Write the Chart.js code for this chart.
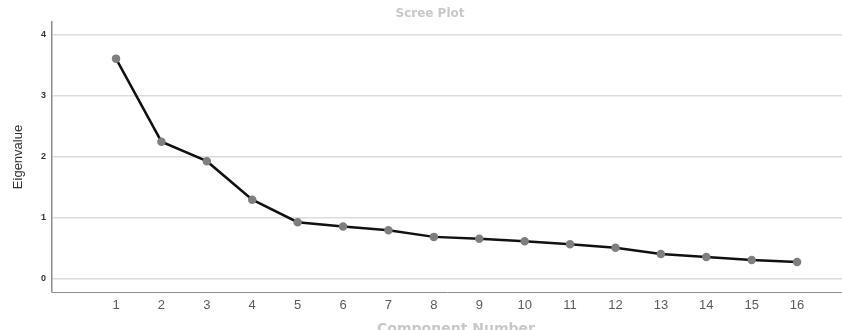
<!DOCTYPE html>
<html>
<head>
<meta charset="utf-8">
<script src="https://cdn.jsdelivr.net/npm/chart.js@4"></script>
<style>
  html, body { margin: 0; padding: 0; background: #fff; overflow: hidden; }
  /* a little wider than the window so the plot runs to the right edge */
  #wrap { position: relative; width: 849px; height: 330px; }
  #myChart { display: block; }
</style>
</head>
<body>
<div id="wrap"><canvas id="myChart"></canvas></div>
<script>
// scree plot data
var components = [1, 2, 3, 4, 5, 6, 7, 8, 9, 10, 11, 12, 13, 14, 15, 16];
var eigenvalues = [3.61, 2.25, 1.93, 1.30, 0.93, 0.86, 0.80, 0.69, 0.66, 0.62, 0.57, 0.51, 0.41, 0.36, 0.31, 0.28];
var yTicks = [0, 1, 2, 3, 4];

// light grey titles, top and bottom
var titlePlugin = {
    id: 'screeTitles',
    afterDraw: function(chart) {
        var ctx = chart.ctx;
        ctx.save();
        ctx.fillStyle = '#c8c8c8';
        ctx.textAlign = 'center';
        ctx.textBaseline = 'alphabetic';
        ctx.font = 'bold 12px "DejaVu Sans", sans-serif';
        ctx.fillText('Scree Plot', 430, 17);
        ctx.font = 'bold 14px "DejaVu Sans", sans-serif';
        ctx.fillText('Component Number', 456, 333);
        ctx.restore();
    }
};

function renderChart() {
    var ctx = document.getElementById('myChart').getContext('2d');
    var points = components.map(function(c, i) { return { x: c, y: eigenvalues[i] }; });
    new Chart(ctx, {
        type: 'line',
        data: {
            datasets: [{
                label: 'Eigenvalue',
                data: points,
                borderColor: '#111111',
                borderWidth: 2.5,
                pointBackgroundColor: '#7f7f7f',
                pointBorderColor: '#7f7f7f',
                pointRadius: 3,
                tension: 0
            }]
        },
        options: {
            responsive: true,
            maintainAspectRatio: false,
            animation: false,
            layout: { padding: { top: 22, right: 0, left: 0, bottom: 0 } },
            plugins: {
                legend: { display: false },
                tooltip: { enabled: false }
            },
            scales: {
                x: {
                    type: 'linear',
                    min: -0.41,
                    max: 17.0,
                    afterBuildTicks: function(axis) {
                        axis.ticks = components.map(function(v) { return { value: v }; });
                    },
                    afterFit: function(axis) {
                        axis.height = 38;
                        axis.paddingRight = 0;
                        axis.paddingLeft = 0;
                    },
                    grid: { display: false, drawTicks: false },
                    border: { color: '#8c8c8c', width: 1 },
                    ticks: {
                        color: '#5a5a5a',
                        padding: 6,
                        maxRotation: 0,
                        autoSkip: false,
                        font: { family: '"Liberation Sans", Arial, sans-serif', size: 13 }
                    }
                },
                y: {
                    min: -0.213,
                    max: 4.21,
                    afterBuildTicks: function(axis) {
                        axis.ticks = yTicks.map(function(v) { return { value: v }; });
                    },
                    afterFit: function(axis) { axis.width = 52; },
                    grid: { color: '#dcdcdc', lineWidth: 1.5, drawTicks: false },
                    border: { color: '#8c8c8c', width: 1.5 },
                    ticks: {
                        color: '#333333',
                        padding: 6,
                        font: { family: '"Liberation Sans", Arial, sans-serif', size: 9, weight: 'bold' }
                    },
                    title: {
                        display: true,
                        text: 'Eigenvalue',
                        color: '#333333',
                        padding: { top: 11, bottom: 0 },
                        font: { family: '"Liberation Sans Narrow", "Liberation Sans", Arial, sans-serif', size: 13 }
                    }
                }
            }
        },
        plugins: [titlePlugin]
    });
}

renderChart();
</script>
</body>
</html>
